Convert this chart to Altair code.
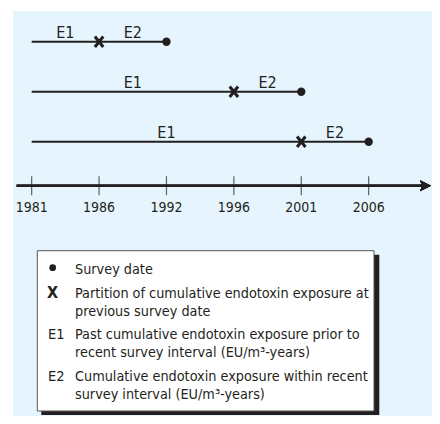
import altair as alt
import pandas as pd

# ---- data ----
tick_years = [1981, 1986, 1992, 1996, 2001, 2006]
rows = [1, 2, 3]
start_year = [1981, 1981, 1981]
partition_year = [1986, 1996, 2001]
survey_year = [1992, 2001, 2006]

legend_symbols = ["●", "X", "E1", "E2"]
legend_labels = [
    ["Survey date"],
    ["Partition of cumulative endotoxin exposure at", "previous survey date"],
    ["Past cumulative endotoxin exposure prior to", "recent survey interval (EU/m³-years)"],
    ["Cumulative endotoxin exposure within recent", "survey interval (EU/m³-years)"],
]

pos = {y: i for i, y in enumerate(tick_years)}
df = pd.DataFrame({
    "row": rows,
    "start": [pos[y] for y in start_year],
    "part": [pos[y] for y in partition_year],
    "survey": [pos[y] for y in survey_year],
})
df["e1"] = (df["start"] + df["part"]) / 2
df["e2"] = (df["part"] + df["survey"]) / 2

ticks_df = pd.DataFrame({"year": tick_years, "idx": [pos[y] for y in tick_years]})

INK = "#231F20"
FONT = "Liberation Sans Narrow, Arial Narrow, DejaVu Sans Condensed, sans-serif"
AXIS_LANE = 3.88
PLOT_W = 419
PLOT_H = 405

xs = alt.Scale(domain=[-0.277, -0.277 + PLOT_W / 67.4], nice=False, zero=False)
ys = alt.Scale(domain=[0.386, 0.386 + PLOT_H / 50.0], nice=False, zero=False, reverse=True)

base = alt.Chart(df)

lines = base.mark_rule(color=INK, strokeWidth=2).encode(
    x=alt.X("start:Q", scale=xs, axis=None),
    x2="survey:Q",
    y=alt.Y("row:Q", scale=ys, axis=None),
)
dots = base.mark_point(shape="circle", filled=True, color=INK, size=70, opacity=1).encode(
    x=alt.X("survey:Q", scale=xs), y=alt.Y("row:Q", scale=ys)
)
crosses = base.mark_point(
    shape="M-0.8,-1L0.8,1M0.8,-1L-0.8,1", filled=False, color=INK, strokeWidth=3,
    size=110, opacity=1
).encode(x=alt.X("part:Q", scale=xs), y=alt.Y("row:Q", scale=ys))
e1 = base.mark_text(font=FONT, fontSize=16, color=INK, baseline="alphabetic", dy=-4).encode(
    x=alt.X("e1:Q", scale=xs), y=alt.Y("row:Q", scale=ys), text=alt.value("E1")
)
e2 = base.mark_text(font=FONT, fontSize=16, color=INK, baseline="alphabetic", dy=-4).encode(
    x=alt.X("e2:Q", scale=xs), y=alt.Y("row:Q", scale=ys), text=alt.value("E2")
)

# timeline axis
axis_line = alt.Chart(ticks_df).mark_rule(color=INK, strokeWidth=2).encode(
    x=alt.value(3.7), x2=alt.value({"expr": "width - 5"}), y=alt.Y("lane:Q", scale=ys)
).transform_calculate(lane=str(AXIS_LANE))
arrow = alt.Chart(ticks_df).mark_point(
    shape="M-1,-1L1,0L-1,1L-0.6,0Z", filled=True, color=INK, size=121, opacity=1
).encode(
    x=alt.value({"expr": "width - 6.5"}), y=alt.Y("lane:Q", scale=ys)
).transform_calculate(lane=str(AXIS_LANE))
axis_ticks = alt.Chart(ticks_df).mark_tick(orient="vertical", size=19, thickness=1.2, color=INK).encode(
    x=alt.X("idx:Q", scale=xs), y=alt.Y("lane:Q", scale=ys)
).transform_calculate(lane=str(AXIS_LANE))
axis_labels = alt.Chart(ticks_df).mark_text(
    font=FONT, fontSize=14, color=INK, baseline="middle", dy=22
).encode(
    x=alt.X("idx:Q", scale=xs), y=alt.Y("lane:Q", scale=ys), text="year:N"
).transform_calculate(lane=str(AXIS_LANE))

# legend box
one = pd.DataFrame({"k": [0]})
shadow = alt.Chart(one).mark_rect(fill=INK).encode(
    x=alt.value(28.3), x2=alt.value(366.3), y=alt.value(243.7), y2=alt.value(404)
)
box = alt.Chart(one).mark_rect(fill="white", stroke="#555555", strokeWidth=1).encode(
    x=alt.value(24.3), x2=alt.value(361), y=alt.value(239.7), y2=alt.value(400)
)
legend_layers = [shadow, box]
baselines = [263, 286.5, 328, 369.5]
for sym, lab, yb in zip(legend_symbols, legend_labels, baselines):
    if sym == "●":
        legend_layers.append(alt.Chart(one).mark_point(
            shape="circle", filled=True, color=INK, size=45, opacity=1
        ).encode(x=alt.value(39.7), y=alt.value(yb - 6.3)))
    elif sym == "X":
        legend_layers.append(alt.Chart(one).mark_text(
            font=FONT, fontSize=16, fontWeight="bold", color=INK, align="center", baseline="alphabetic"
        ).encode(x=alt.value(39.5), y=alt.value(yb), text=alt.value(sym)))
    else:
        legend_layers.append(alt.Chart(one).mark_text(
            font=FONT, fontSize=14.5, color=INK, align="left", baseline="alphabetic"
        ).encode(x=alt.value(35), y=alt.value(yb), text=alt.value(sym)))
    legend_layers.append(alt.Chart(one).mark_text(
        font=FONT, fontSize=14.3, color=INK, align="left", baseline="alphabetic", lineHeight=18
    ).encode(x=alt.value(62), y=alt.value(yb), text=alt.value(lab)))

chart = alt.layer(
    lines, crosses, dots, e1, e2, axis_line, arrow, axis_ticks, axis_labels, *legend_layers
).properties(
    width=PLOT_W, height=PLOT_H,
    autosize=alt.AutoSizeParams(type="none"),
    padding={"left": 5, "top": 3, "right": 0, "bottom": 0},
).configure(background="white").configure_view(fill="#E6F5FD", stroke=None)

chart.save("out.html", embed_options={"renderer": "svg", "actions": False})
